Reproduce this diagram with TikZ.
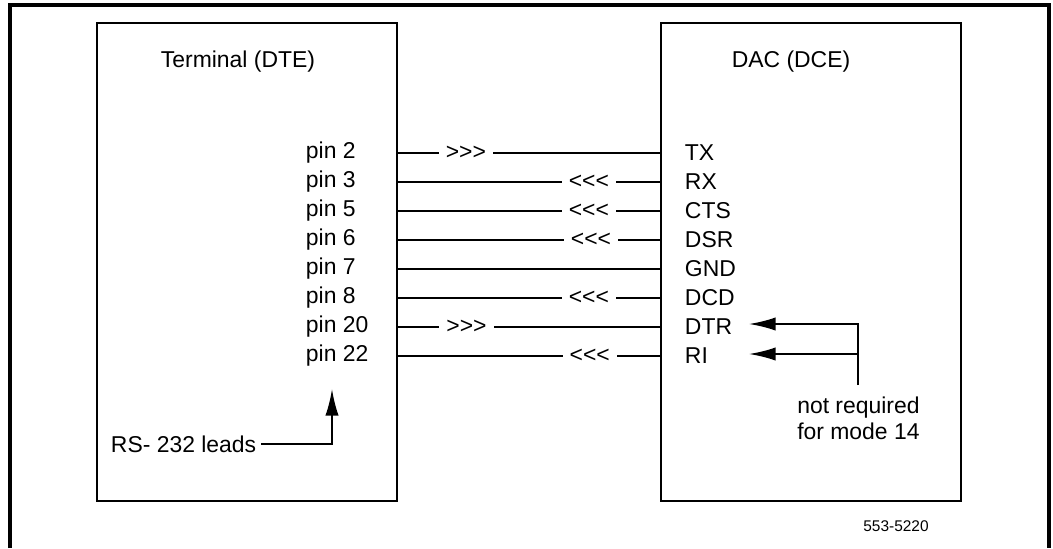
\documentclass[tikz,border=0pt]{standalone}
\usepackage{fontspec}
\setmainfont{Liberation Sans}[Ligatures=TeXOff]
\usetikzlibrary{arrows.meta}

\begin{document}
\begin{tikzpicture}[x=0.025cm, y=-0.025cm, font=\fontsize{16.3}{18}\selectfont,
    unit/.style={draw, line width=1.4pt, outer sep=0pt, minimum width=7.5cm, minimum height=11.95cm},
    wire/.style={line width=1.4pt},
    flow/.style={fill=white, inner xsep=5pt, inner ysep=1pt},
    lead/.style={line width=1.4pt, -{Latex[length=19pt, width=9.5pt]}}]
  \useasboundingbox (0, 0) rectangle (1053, 548);
  \draw[line width=2.2pt] (10, 548) -- (10, 5) -- (1049, 5) -- (1049, 548);
  \node[unit] (dte) at (247, 262) {};
  \node[unit] (dce) at (811, 262) {};
  \node (dtetitle) at (238, 62) {Terminal (DTE)};
  \node (dcetitle) at (791, 62) {DAC (DCE)};
  \node[anchor=west] (p2) at (301, 153) {pin 2};
  \node[anchor=west] (p3) at (301, 182) {pin 3};
  \node[anchor=west] (p5) at (301, 211) {pin 5};
  \node[anchor=west] (p6) at (301, 240) {pin 6};
  \node[anchor=west] (p7) at (301, 269) {pin 7};
  \node[anchor=west] (p8) at (301, 298) {pin 8};
  \node[anchor=west] (p20) at (301, 327) {pin 20};
  \node[anchor=west] (p22) at (301, 356) {pin 22};
  \node[anchor=west] (tx) at (680, 153) {TX};
  \node[anchor=west] (rx) at (680, 182) {RX};
  \node[anchor=west] (cts) at (680, 211) {CTS};
  \node[anchor=west] (dsr) at (680, 240) {DSR};
  \node[anchor=west] (gnd) at (680, 269) {GND};
  \node[anchor=west] (dcd) at (680, 298) {DCD};
  \node[anchor=west] (dtr) at (680, 327) {DTR};
  \node[anchor=west] (ri) at (680, 356) {RI};
  \draw[wire] (dte.east |- p2) -- (dce.west |- p2) node[flow, pos=0.261] {>>>};
  \draw[wire] (dte.east |- p3) -- (dce.west |- p3) node[flow, pos=0.727] {<<<};
  \draw[wire] (dte.east |- p5) -- (dce.west |- p5) node[flow, pos=0.727] {<<<};
  \draw[wire] (dte.east |- p6) -- (dce.west |- p6) node[flow, pos=0.735] {<<<};
  \draw[wire] (dte.east |- p7) -- (dce.west |- p7);
  \draw[wire] (dte.east |- p8) -- (dce.west |- p8) node[flow, pos=0.727] {<<<};
  \draw[wire] (dte.east |- p20) -- (dce.west |- p20) node[flow, pos=0.263] {>>>};
  \draw[wire] (dte.east |- p22) -- (dce.west |- p22) node[flow, pos=0.73] {<<<};
  \node[anchor=west] (rs) at (106, 444) {RS- 232 leads};
  \coordinate (rstip) at (332, 389);
  \draw[lead] (rs.east) -| (rstip);
  \node[anchor=north west, align=left, inner sep=0pt] (note) at (797, 397) {not required\\for mode 14};
  \coordinate (dtrtip) at (749, 324);
  \coordinate (ritip) at (749, 354);
  \coordinate (bend) at (858, 385);
  \draw[lead] (bend) |- (dtrtip);
  \draw[lead] (bend |- ritip) -- (ritip);
  \node[font=\fontsize{11}{13}\selectfont] (fig) at (896, 526) {553-5220};
\end{tikzpicture}
\end{document}
